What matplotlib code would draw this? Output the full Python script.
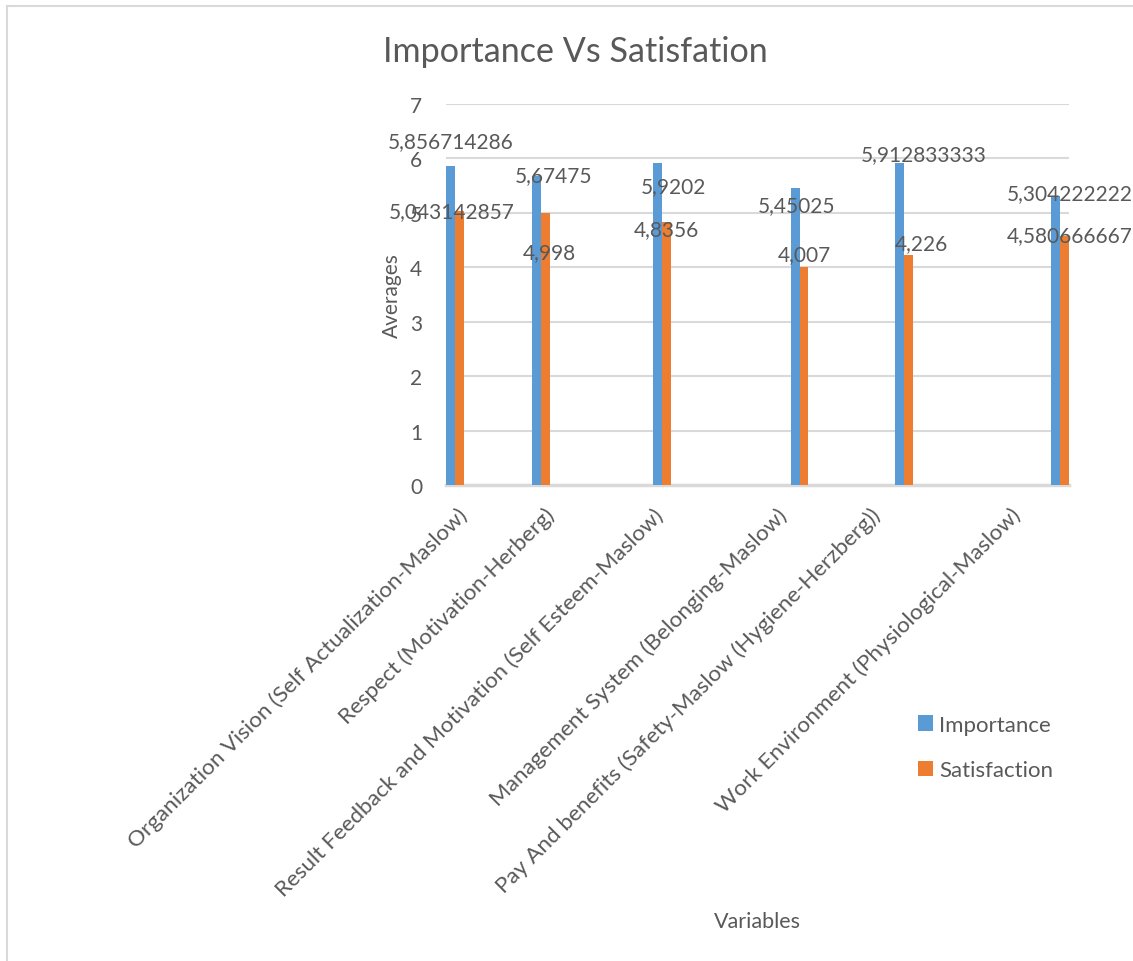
import matplotlib
matplotlib.use("Agg")
import matplotlib.pyplot as plt
from matplotlib.lines import Line2D

plt.rcParams['font.family'] = ['Lato', 'DejaVu Sans']

# ---- data ----
categories = [
    "Organization Vision (Self Actualization-Maslow)",
    "Respect (Motivation-Herberg)",
    "Result Feedback and Motivation (Self Esteem-Maslow)",
    "Management System (Belonging-Maslow)",
    "Pay And benefits (Safety-Maslow (Hygiene-Herzberg))",
    "Work Environment (Physiological-Maslow)",
]
importance = [5.856714286, 5.67475, 5.9202, 5.45025, 5.912833333, 5.304222222]
satisfaction = [5.043142857, 4.998, 4.8356, 4.007, 4.226, 4.580666667]
importance_labels = ["5,856714286", "5,67475", "5,9202", "5,45025", "5,912833333", "5,304222222"]
satisfaction_labels = ["5,043142857", "4,998", "4,8356", "4,007", "4,226", "4,580666667"]

# ---- layout ----
group_pos = [0.0144, 0.1525, 0.3467, 0.5680, 0.7350, 0.9856]   # bar-pair centres along the axis
label_pos = [0.0290, 0.1686, 0.3436, 0.5427, 0.6919, 0.9166]   # category label anchors
bar_w = 0.0138
imp_off = [(0, 25), (17, 1), (16, -23), (1, -17), (24, 9), (14, 3)]      # label offsets, pixels
sat_off = [(-8, -1), (4, -39), (0, -7), (0, 13), (13, 12), (5, 1)]

BLUE = "#5B9BD5"
ORANGE = "#ED7D31"
TXT = "#595959"
GRID = "#D9D9D9"

W, H = 1133, 962
fig = plt.figure(figsize=(W / 100, H / 100), dpi=100)
ax = fig.add_axes([446 / W, (H - 486) / H, (1069 - 446) / W, (486 - 105) / H])

imp_x = [p - bar_w / 2 for p in group_pos]
sat_x = [p + bar_w / 2 for p in group_pos]
b1 = ax.bar(imp_x, importance, width=bar_w, color=BLUE, label="Importance", zorder=3)
b2 = ax.bar(sat_x, satisfaction, width=bar_w, color=ORANGE, label="Satisfaction", zorder=3)

for x, v, s, (dx, dy) in zip(imp_x, importance, importance_labels, imp_off):
    ax.annotate(s, (x, v), xytext=(dx, dy), textcoords="offset pixels",
                ha="center", va="center", fontsize=15, color=TXT, zorder=4,
                annotation_clip=False)
for x, v, s, (dx, dy) in zip(sat_x, satisfaction, satisfaction_labels, sat_off):
    ax.annotate(s, (x, v), xytext=(dx, dy), textcoords="offset pixels",
                ha="center", va="center", fontsize=15, color=TXT, zorder=4,
                annotation_clip=False)

ax.set_xlim(0, 1)
ax.set_ylim(0, 7)
ax.set_yticks(range(0, 8))
ax.yaxis.grid(True, color=GRID, linewidth=1.5, zorder=0)
ax.set_axisbelow(True)
for side in ("top", "right", "left"):
    ax.spines[side].set_visible(False)
ax.spines["bottom"].set_color(GRID)
ax.spines["bottom"].set_linewidth(2.5)
ax.tick_params(axis="y", length=0, pad=17, labelsize=15, labelcolor=TXT)
ax.tick_params(axis="x", length=0, pad=19, labelsize=16.2, labelcolor=TXT)
ax.set_xticks(label_pos)
ax.set_xticklabels(categories, rotation=45, ha="right", va="center",
                   rotation_mode="anchor")

ax.set_ylabel("Averages", fontsize=15, color=TXT, labelpad=6)
fig.text(757 / W, 1 - 922 / H, "Variables", ha="center", va="center",
         fontsize=15.5, color=TXT)
fig.text(575 / W, 1 - 52 / H, "Importance Vs Satisfation", ha="center",
         va="center", fontsize=24.6, color=TXT)

fig.legend(handles=[b1, b2], loc="upper left",
           bbox_to_anchor=(909 / W, 1 - 707 / H), frameon=False,
           fontsize=16, labelcolor=TXT, handlelength=0.7, handleheight=0.7,
           handletextpad=0.25, labelspacing=1.15, borderaxespad=0)

# chart-area border
fig.add_artist(Line2D([7 / W, 1], [1 - 7 / H, 1 - 7 / H], color=GRID, lw=1.5))
fig.add_artist(Line2D([7 / W, 7 / W], [0, 1 - 7 / H], color=GRID, lw=1.5))

fig.savefig("out.png", dpi=100, facecolor="white")
